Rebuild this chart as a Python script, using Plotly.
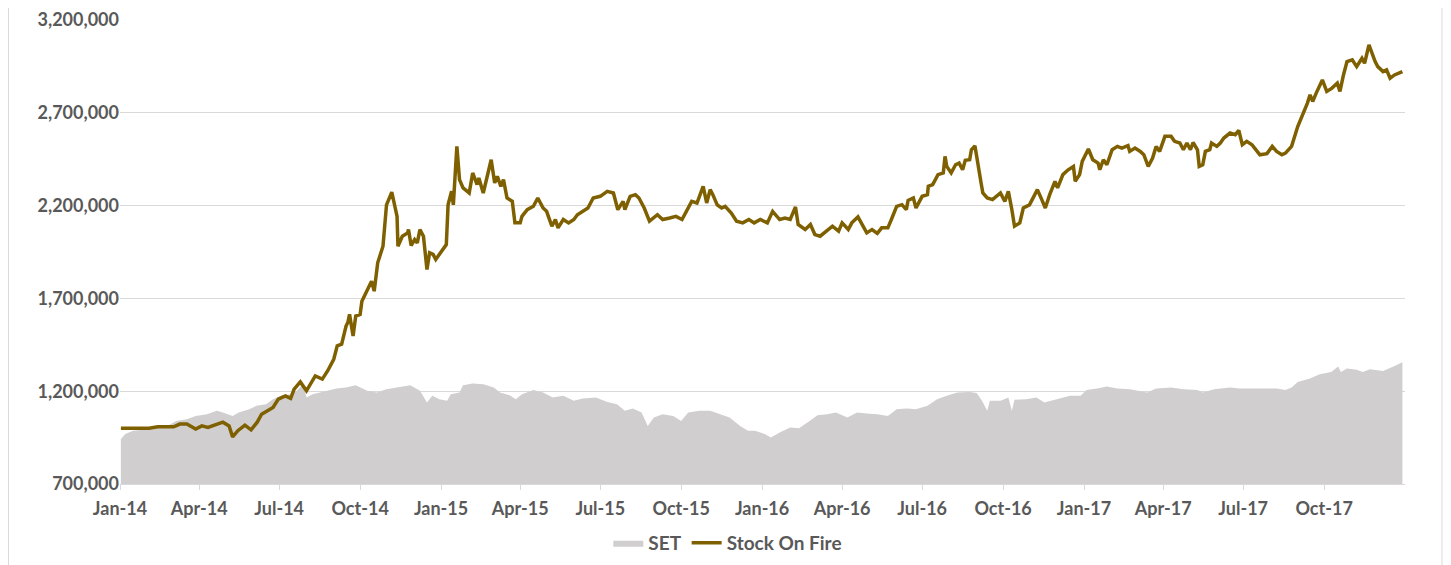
import plotly.graph_objects as go

# ---- Data ----
sof_dates = [
    "2014-01-02", "2014-02-03", "2014-02-13", "2014-03-03", "2014-03-10", "2014-03-18", "2014-03-28",
    "2014-04-04", "2014-04-11", "2014-04-18", "2014-04-28", "2014-05-05", "2014-05-09", "2014-05-15",
    "2014-05-23", "2014-05-30", "2014-06-06", "2014-06-11", "2014-06-18", "2014-06-24", "2014-06-30",
    "2014-07-08", "2014-07-14", "2014-07-18", "2014-07-25", "2014-08-01", "2014-08-11", "2014-08-19",
    "2014-08-25", "2014-09-01", "2014-09-05", "2014-09-10", "2014-09-15", "2014-09-17", "2014-09-19",
    "2014-09-23", "2014-09-26", "2014-10-01", "2014-10-03", "2014-10-09", "2014-10-14", "2014-10-17",
    "2014-10-21", "2014-10-27", "2014-10-29", "2014-10-31", "2014-11-06", "2014-11-12", "2014-11-13",
    "2014-11-18", "2014-11-24", "2014-11-25", "2014-11-28", "2014-12-02", "2014-12-05", "2014-12-08",
    "2014-12-12", "2014-12-16", "2014-12-19", "2014-12-23", "2014-12-26",
    "2015-01-02", "2015-01-07", "2015-01-09", "2015-01-13", "2015-01-15", "2015-01-19", "2015-01-22",
    "2015-01-26", "2015-02-02", "2015-02-06", "2015-02-11", "2015-02-13", "2015-02-18", "2015-02-23",
    "2015-02-27", "2015-03-03", "2015-03-06", "2015-03-10", "2015-03-13", "2015-03-17", "2015-03-23",
    "2015-03-26", "2015-04-01", "2015-04-03", "2015-04-09", "2015-04-16", "2015-04-21", "2015-04-27",
    "2015-05-01", "2015-05-07", "2015-05-11", "2015-05-14", "2015-05-20", "2015-05-26", "2015-06-01",
    "2015-06-05", "2015-06-11", "2015-06-17", "2015-06-23", "2015-07-01", "2015-07-09", "2015-07-16",
    "2015-07-21", "2015-07-27", "2015-07-29", "2015-08-04", "2015-08-10", "2015-08-14", "2015-08-20",
    "2015-08-26", "2015-09-04", "2015-09-10", "2015-09-18", "2015-09-25", "2015-10-02", "2015-10-08",
    "2015-10-13", "2015-10-19", "2015-10-22", "2015-10-26", "2015-10-30", "2015-11-03", "2015-11-06",
    "2015-11-11", "2015-11-16", "2015-11-20", "2015-11-27", "2015-12-03", "2015-12-10", "2015-12-17",
    "2015-12-23", "2015-12-30",
    "2016-01-07", "2016-01-13", "2016-01-21", "2016-01-27", "2016-02-02", "2016-02-08", "2016-02-11",
    "2016-02-19", "2016-02-25", "2016-03-01", "2016-03-07", "2016-03-14", "2016-03-21", "2016-03-28",
    "2016-04-01", "2016-04-08", "2016-04-12", "2016-04-19", "2016-04-25", "2016-04-29", "2016-05-05",
    "2016-05-11", "2016-05-16", "2016-05-23", "2016-05-27", "2016-06-02", "2016-06-08", "2016-06-13",
    "2016-06-15", "2016-06-21", "2016-06-24", "2016-07-01", "2016-07-07", "2016-07-08", "2016-07-13",
    "2016-07-19", "2016-07-25", "2016-07-27", "2016-07-29", "2016-08-03", "2016-08-08", "2016-08-12",
    "2016-08-16", "2016-08-19", "2016-08-24", "2016-08-26", "2016-08-30", "2016-09-02", "2016-09-06",
    "2016-09-08", "2016-09-13", "2016-09-19", "2016-09-23", "2016-09-28", "2016-10-03", "2016-10-07",
    "2016-10-11", "2016-10-14", "2016-10-20", "2016-10-24", "2016-10-31", "2016-11-09", "2016-11-14",
    "2016-11-18", "2016-11-23", "2016-11-29", "2016-12-02", "2016-12-08", "2016-12-14", "2016-12-20",
    "2016-12-22", "2016-12-27", "2016-12-30",
    "2017-01-06", "2017-01-11", "2017-01-17", "2017-01-19", "2017-01-23", "2017-01-27", "2017-02-02",
    "2017-02-08", "2017-02-13", "2017-02-20", "2017-02-22", "2017-02-28", "2017-03-06", "2017-03-10",
    "2017-03-15", "2017-03-20", "2017-03-24", "2017-03-28", "2017-04-03", "2017-04-10", "2017-04-14",
    "2017-04-20", "2017-04-24", "2017-04-28", "2017-05-02", "2017-05-05", "2017-05-10", "2017-05-12",
    "2017-05-16", "2017-05-19", "2017-05-24", "2017-05-26", "2017-06-01", "2017-06-05", "2017-06-09",
    "2017-06-16", "2017-06-22", "2017-06-26", "2017-06-30", "2017-07-05", "2017-07-11", "2017-07-14",
    "2017-07-20", "2017-07-28", "2017-08-03", "2017-08-08", "2017-08-14", "2017-08-18", "2017-08-25",
    "2017-09-01", "2017-09-07", "2017-09-12", "2017-09-15", "2017-09-18", "2017-09-22", "2017-09-29",
    "2017-10-04", "2017-10-10", "2017-10-16", "2017-10-19", "2017-10-23", "2017-10-27", "2017-11-02",
    "2017-11-07", "2017-11-13", "2017-11-16", "2017-11-21", "2017-11-24", "2017-11-28", "2017-12-01",
    "2017-12-07", "2017-12-11", "2017-12-15", "2017-12-20", "2017-12-26", "2017-12-29",
]
sof_values = [  # thousands
    1001, 1001, 1008, 1008, 1023, 1023, 996,
    1013, 1005, 1017, 1033, 1013, 954, 987,
    1017, 992, 1033, 1076, 1094, 1112, 1157,
    1175, 1161, 1211, 1250, 1202, 1282, 1265,
    1309, 1372, 1444, 1453, 1551, 1570, 1614,
    1497, 1605, 1614, 1685, 1748, 1793, 1739,
    1892, 1981, 2107, 2204, 2272, 2142, 1981,
    2035, 2053, 2071, 1985, 2017, 1999, 2071,
    2035, 1856, 1946, 1937, 1910,
    1954, 1990, 2204, 2277, 2204, 2519, 2340,
    2295, 2268, 2376, 2313, 2349, 2268, 2367,
    2447, 2322, 2358, 2304, 2340, 2241, 2223,
    2107, 2107, 2142, 2178, 2196, 2241, 2187,
    2169, 2089, 2125, 2080, 2125, 2107, 2125,
    2151, 2169, 2187, 2241, 2250, 2277, 2268,
    2178, 2223, 2178, 2250, 2259, 2241, 2187,
    2116, 2151, 2125, 2133, 2142, 2125, 2178,
    2223, 2214, 2259, 2304, 2214, 2286, 2259,
    2204, 2187, 2196, 2160, 2116, 2107, 2125,
    2107, 2125,
    2107, 2169, 2125, 2133, 2125, 2193, 2098,
    2071, 2098, 2044, 2035, 2062, 2089, 2062,
    2107, 2071, 2107, 2139, 2089, 2053, 2071,
    2050, 2080, 2080, 2125, 2196, 2205, 2178,
    2228, 2241, 2187, 2250, 2259, 2304, 2313,
    2367, 2376, 2465, 2411, 2376, 2420, 2429,
    2393, 2444, 2447, 2501, 2522, 2447, 2322,
    2268, 2241, 2232, 2250, 2268, 2223, 2277,
    2178, 2089, 2107, 2187, 2204, 2286, 2232,
    2187, 2259, 2331, 2295, 2367, 2393, 2411,
    2331, 2367, 2438,
    2505, 2447, 2429, 2393, 2447, 2420, 2501,
    2519, 2510, 2523, 2492, 2510, 2492, 2474,
    2411, 2456, 2519, 2492, 2573, 2573, 2546,
    2537, 2501, 2537, 2501, 2540, 2501, 2411,
    2420, 2492, 2501, 2537, 2519, 2537, 2564,
    2591, 2582, 2605, 2528, 2546, 2528, 2510,
    2474, 2480, 2519, 2492, 2474, 2483, 2519,
    2626, 2689, 2752, 2797, 2761, 2806, 2877,
    2815, 2833, 2860, 2815, 2904, 2976, 2985,
    2949, 2994, 2967, 3066, 3021, 2976, 2949,
    2922, 2931, 2886, 2904, 2917, 2922,
]

set_dates = [
    "2014-01-02", "2014-01-07", "2014-01-16", "2014-02-04", "2014-02-24", "2014-03-06", "2014-03-18",
    "2014-03-28", "2014-04-10", "2014-04-21", "2014-04-28", "2014-05-09", "2014-05-16", "2014-05-28",
    "2014-06-05", "2014-06-16", "2014-06-24", "2014-07-03", "2014-07-14", "2014-07-21", "2014-07-28",
    "2014-08-01", "2014-08-08", "2014-08-25", "2014-09-04", "2014-09-15", "2014-09-26", "2014-10-09",
    "2014-10-20", "2014-10-31", "2014-11-14", "2014-11-27", "2014-12-08", "2014-12-16", "2014-12-22",
    "2014-12-30", "2015-01-08", "2015-01-12", "2015-01-22", "2015-01-26", "2015-02-06", "2015-02-18",
    "2015-03-02", "2015-03-09", "2015-03-20", "2015-03-27", "2015-04-03", "2015-04-16", "2015-04-27",
    "2015-05-08", "2015-05-20", "2015-06-01", "2015-06-11", "2015-06-26", "2015-07-09", "2015-07-20",
    "2015-07-29", "2015-08-07", "2015-08-17", "2015-08-24", "2015-08-31", "2015-09-10", "2015-09-22",
    "2015-10-01", "2015-10-09", "2015-10-22", "2015-11-03", "2015-11-13", "2015-11-25", "2015-12-07",
    "2015-12-16", "2015-12-24", "2016-01-04", "2016-01-11", "2016-01-21", "2016-02-02", "2016-02-12",
    "2016-02-24", "2016-03-04", "2016-03-15", "2016-03-25", "2016-04-07", "2016-04-18", "2016-04-29",
    "2016-05-11", "2016-05-23", "2016-06-02", "2016-06-14", "2016-06-24", "2016-07-07", "2016-07-18",
    "2016-07-29", "2016-08-10", "2016-08-24", "2016-09-01", "2016-09-07", "2016-09-13", "2016-09-16",
    "2016-09-28", "2016-10-07", "2016-10-11", "2016-10-14", "2016-10-27", "2016-11-08", "2016-11-17",
    "2016-12-01", "2016-12-16", "2016-12-28", "2017-01-04", "2017-01-16", "2017-01-27", "2017-02-08",
    "2017-02-22", "2017-03-14", "2017-03-24", "2017-04-10", "2017-04-24", "2017-05-10", "2017-05-16",
    "2017-05-29", "2017-06-16", "2017-06-27", "2017-07-17", "2017-08-08", "2017-08-18", "2017-08-25",
    "2017-09-01", "2017-09-15", "2017-09-26", "2017-10-09", "2017-10-17", "2017-10-20", "2017-10-27",
    "2017-11-07", "2017-11-14", "2017-11-22", "2017-12-07", "2017-12-14", "2017-12-22", "2017-12-29",
]
set_values = [  # thousands
    942, 969, 987, 996, 1013, 1040, 1049,
    1067, 1076, 1094, 1085, 1067, 1085, 1103,
    1121, 1130, 1157, 1175, 1184, 1202, 1238,
    1166, 1184, 1202, 1214, 1220, 1232, 1202,
    1193, 1211, 1220, 1232, 1202, 1139, 1175,
    1157, 1148, 1184, 1193, 1232, 1241, 1238,
    1220, 1193, 1178, 1157, 1184, 1207, 1193,
    1166, 1175, 1148, 1160, 1166, 1142, 1130,
    1094, 1107, 1085, 1013, 1058, 1076, 1067,
    1040, 1085, 1094, 1094, 1076, 1058, 1013,
    987, 987, 969, 951, 978, 1005, 1000,
    1040, 1071, 1076, 1085, 1058, 1085, 1080,
    1076, 1067, 1103, 1107, 1103, 1121, 1157,
    1175, 1193, 1196, 1190, 1148, 1094, 1148,
    1148, 1166, 1094, 1154, 1157, 1166, 1139,
    1157, 1175, 1175, 1207, 1214, 1225, 1214,
    1211, 1193, 1214, 1220, 1211, 1207, 1193,
    1211, 1220, 1214, 1214, 1214, 1207, 1220,
    1250, 1268, 1291, 1304, 1333, 1304, 1322,
    1316, 1304, 1318, 1309, 1322, 1340, 1356,
]

x_tick_dates = [
    "2014-01-01", "2014-04-01", "2014-07-01", "2014-10-01",
    "2015-01-01", "2015-04-01", "2015-07-01", "2015-10-01",
    "2016-01-01", "2016-04-01", "2016-07-01", "2016-10-01",
    "2017-01-01", "2017-04-01", "2017-07-01", "2017-10-01",
]
y_ticks = [700000, 1200000, 1700000, 2200000, 2700000, 3200000]

LINE_COLOR = "#7F6000"
FILL_COLOR = "#D0CECE"
TEXT_COLOR = "#595959"
GRID_COLOR = "#D9D9D9"
FONT = "Lato"

fig = go.Figure()
fig.add_trace(go.Scatter(
    x=set_dates, y=[v * 1000 for v in set_values], name="SET",
    mode="lines", fill="tozeroy", fillcolor=FILL_COLOR,
    line=dict(width=0, color=FILL_COLOR),
))
fig.add_trace(go.Scatter(
    x=sof_dates, y=[v * 1000 for v in sof_values], name="Stock On Fire",
    mode="lines", line=dict(width=3.5, color=LINE_COLOR),
))

fig.update_layout(
    width=1435, height=565,
    margin=dict(l=112, r=38, t=12, b=88),
    paper_bgcolor="white", plot_bgcolor="white",
    font=dict(family=FONT, color=TEXT_COLOR, size=18),
    legend=dict(orientation="h", x=0.473, xanchor="center", y=-0.1247, yanchor="middle",
                font=dict(family=FONT, size=19, color=TEXT_COLOR, weight="bold"),
                traceorder="normal", itemwidth=30),
    shapes=[
        dict(type="line", xref="paper", yref="paper",
             x0=-0.0868, x1=-0.0868, y0=-0.3, y1=1.03,
             line=dict(color="#D9D9D9", width=1), layer="below"),
        dict(type="line", xref="paper", yref="paper",
             x0=1.0288, x1=1.0288, y0=-0.3, y1=1.03,
             line=dict(color="#D9D9D9", width=1), layer="below"),
    ],
)
fig.update_xaxes(
    type="date", range=["2014-01-01", "2017-12-31 23:00"],
    tickvals=x_tick_dates, tickformat="%b-%y",
    ticks="outside", ticklen=5, tickcolor=GRID_COLOR,
    showline=True, linecolor=GRID_COLOR, linewidth=1,
    showgrid=False, zeroline=False, ticklabelstandoff=3,
    automargin=False, ticklabeloverflow="allow",
    tickfont=dict(family=FONT, size=18, color=TEXT_COLOR, weight="bold"),
)
fig.update_yaxes(
    range=[700000, 3200000], tickvals=y_ticks, tickformat=",",
    showgrid=True, gridcolor=GRID_COLOR, gridwidth=1,
    showline=False, zeroline=False, ticks="",
    automargin=False, ticklabeloverflow="allow",
    tickfont=dict(family=FONT, size=18, color=TEXT_COLOR, weight="bold"),
)

fig.write_html("out.html")
